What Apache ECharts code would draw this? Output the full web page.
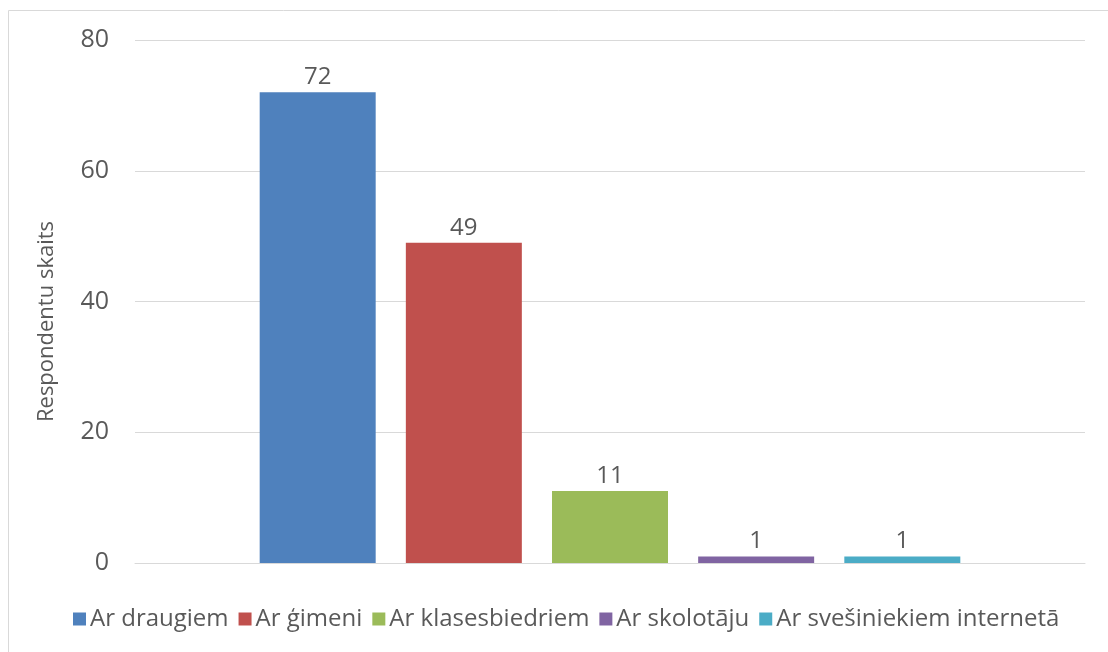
<!DOCTYPE html>
<html>
<head>
<meta charset="utf-8">
<script src="https://cdn.jsdelivr.net/npm/echarts@6/dist/echarts.min.js"></script>
<style>
  html, body { margin: 0; padding: 0; background: #fff; }
  #main { width: 1108px; height: 652px; }
</style>
</head>
<body>
<div id="main"></div>
<script>
// one category, each answer is its own series (legend at the bottom)
const seriesNames = ["Ar draugiem", "Ar ģimeni", "Ar klasesbiedriem", "Ar skolotāju", "Ar svešiniekiem internetā"]
const seriesValues = [72, 49, 11, 1, 1]
const seriesColors = ["#4F81BD", "#C0504D", "#9BBB59", "#8064A2", "#4BACC6"]
const yTicks = [0, 20, 40, 60, 80]

const font = "'Open Sans', 'Noto Sans', sans-serif"
const textColor = "#595959"

var chartDom = document.getElementById('main');
var myChart = echarts.init(chartDom);
var option;

let series = seriesNames.map((name, i) => ({
  name: name,
  type: 'bar',
  data: [seriesValues[i]],
  barWidth: 116,
  barGap: '26%',
  itemStyle: { color: seriesColors[i] },
  label: {
    show: true,
    position: 'top',
    distance: 3,
    color: textColor,
    fontFamily: font,
    fontSize: 24
  }
}))

option = {
  animation: false,
  textStyle: { fontFamily: font },
  graphic: [
    {
      type: 'rect',
      shape: { x: 8.5, y: 10.5, width: 1300, height: 900 },
      style: { fill: 'none', stroke: '#d9d9d9', lineWidth: 1 },
      silent: true
    }
  ],
  grid: {
    left: 135,
    right: 23,
    top: 40,
    bottom: 89
  },
  legend: {
    bottom: 16,
    left: 68,
    icon: 'rect',
    itemWidth: 13,
    itemHeight: 13,
    itemGap: 10,
    textStyle: {
      color: textColor,
      fontFamily: font,
      fontSize: 24,
      padding: [0, 0, 0, -1]
    },
    data: seriesNames
  },
  xAxis: {
    type: 'category',
    data: [''],
    axisLine: { show: true, lineStyle: { color: '#d9d9d9' } },
    axisTick: { show: false },
    axisLabel: { show: false }
  },
  yAxis: {
    type: 'value',
    min: yTicks[0],
    max: yTicks[yTicks.length - 1],
    interval: 20,
    name: 'Respondentu skaits',
    nameLocation: 'middle',
    nameRotate: 90,
    nameGap: 77,
    nameTextStyle: {
      color: textColor,
      fontFamily: font,
      fontSize: 22,
      padding: [0, 40, 0, 0]
    },
    axisLine: { show: false },
    axisTick: { show: false },
    axisLabel: {
      color: textColor,
      fontFamily: font,
      fontSize: 25,
      margin: 26
    },
    splitLine: { lineStyle: { color: '#d9d9d9', width: 1 } }
  },
  series: series
};
option && myChart.setOption(option);
</script>
</body>
</html>
